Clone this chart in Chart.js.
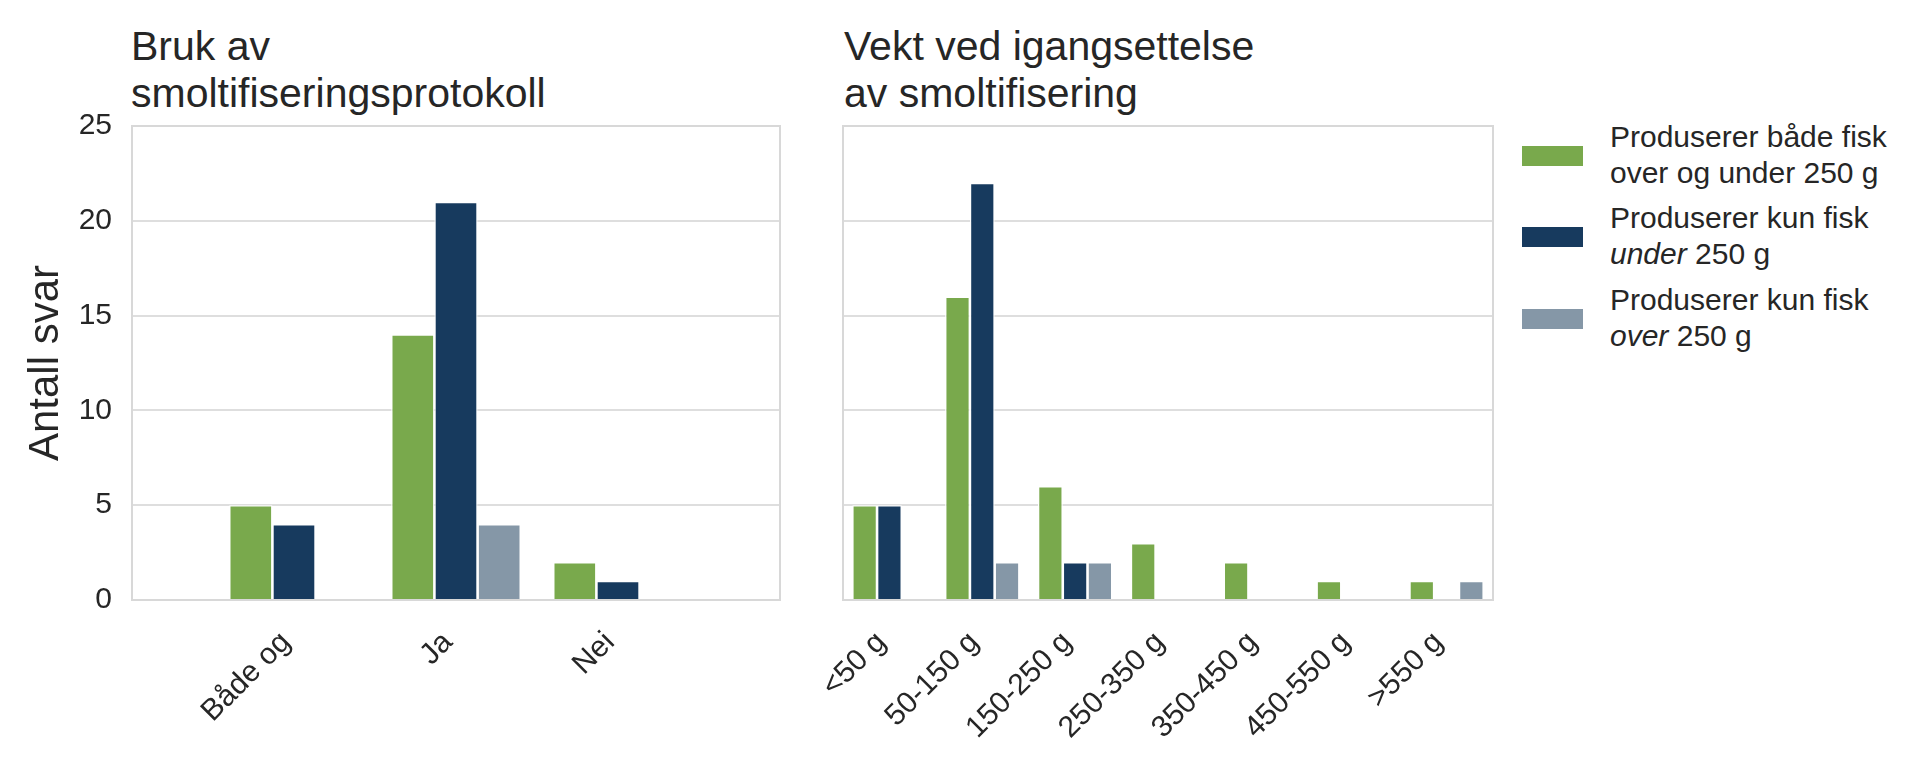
<!DOCTYPE html>
<html>
<head>
<meta charset="utf-8">
<script src="https://cdn.jsdelivr.net/npm/chart.js@4.4.1/dist/chart.umd.min.js"></script>
<style>
  html, body { margin: 0; padding: 0; background: #ffffff; }
  body { width: 1916px; height: 764px; position: relative; overflow: hidden;
         font-family: "Liberation Sans", Arial, sans-serif; color: #262626; }
  .title { position: absolute; top: 23px; font-size: 41px; line-height: 47px; white-space: nowrap; }
  #cLeft { position: absolute; left: 0; top: 0; }
  #cRight { position: absolute; left: 800px; top: 0; }
  .leg { position: absolute; left: 1610px; font-size: 30px; line-height: 36px; white-space: nowrap; }
  .sw { position: absolute; left: 1522px; width: 61px; height: 20px; }
</style>
</head>
<body>
<div class="title" style="left:131px">Bruk av<br>smoltifiseringsprotokoll</div>
<div class="title" style="left:844px">Vekt ved igangsettelse<br>av smoltifisering</div>
<canvas id="cLeft" width="800" height="764"></canvas>
<canvas id="cRight" width="720" height="764"></canvas>
<div id="legend"></div>
<script>
// ---- data ----
const leftCategories = ["Både og", "Ja", "Nei"];
const rightCategories = ["<50 g", "50-150 g", "150-250 g", "250-350 g", "350-450 g", "450-550 g", ">550 g"];
const seriesLegend = [
  ["Produserer både fisk", "over og under 250 g"],
  ["Produserer kun fisk", "<i>under</i> 250 g"],
  ["Produserer kun fisk", "<i>over</i> 250 g"]
];
const seriesLabels = ["Produserer både fisk over og under 250 g", "Produserer kun fisk under 250 g", "Produserer kun fisk over 250 g"];
const seriesColors = ["#79a94c", "#173a5e", "#8597a7"];
const leftBoth  = [5, 14, 2];
const leftUnder = [4, 21, 1];
const leftOver  = [0, 4, 0];
const rightBoth  = [5, 16, 6, 3, 2, 1, 1];
const rightUnder = [5, 22, 2, 0, 0, 0, 0];
const rightOver  = [0, 2, 2, 0, 0, 0, 1];
const yMin = 0, yMax = 25, yStep = 5;
const yAxisTitle = "Antall svar";

// ---- helpers ----
const TEXT = "#262626";
const GRID = "#dedede";
const FONT = "'Liberation Sans', Arial, sans-serif";

const framePlugin = {
  id: 'frame',
  beforeDatasetsDraw(chart) {
    const a = chart.chartArea, ctx = chart.ctx;
    ctx.save();
    ctx.strokeStyle = "#d8d8d8";
    ctx.lineWidth = 2;
    ctx.strokeRect(a.left, a.top, a.right - a.left, a.bottom - a.top);
    ctx.restore();
  }
};

function makeDatasets(arrs, pad) {
  return arrs.map((arr, i) => ({
    label: seriesLabels[i],
    data: pad ? [null, ...arr, null] : arr,
    backgroundColor: seriesColors[i],
    borderColor: "#ffffff",
    borderWidth: 1.3,
    categoryPercentage: 0.8,
    barPercentage: 1.0
  }));
}

function makeOptions(isLeft) {
  return {
    responsive: false,
    animation: false,
    layout: { padding: { top: 126, bottom: 0, left: 0, right: isLeft ? 20 : 27 } },
    plugins: { legend: { display: false }, title: { display: false }, tooltip: { enabled: false } },
    scales: {
      x: {
        offset: !isLeft,
        grid: { display: false, drawTicks: false },
        border: { display: false },
        ticks: {
          autoSkip: false, maxRotation: 45, minRotation: 45, padding: 25, labelOffset: -8,
          color: TEXT, font: { family: FONT, size: 30 }
        },
        afterFit(s) { s.height = 164; s.paddingLeft = 0; s.paddingRight = 0; }
      },
      y: {
        min: yMin, max: yMax,
        grid: { color: GRID, lineWidth: 2, drawTicks: false },
        border: { display: false },
        ticks: {
          display: isLeft, stepSize: yStep, padding: 20,
          color: TEXT, font: { family: FONT, size: 30 }
        },
        title: {
          display: isLeft, text: yAxisTitle, color: TEXT,
          font: { family: FONT, size: 42 }, padding: { top: 21, bottom: 0 }
        },
        afterFit(s) { s.width = isLeft ? 132 : 43; s.paddingTop = 0; s.paddingBottom = 0; }
      }
    }
  };
}

new Chart(document.getElementById('cLeft'), {
  type: 'bar',
  data: { labels: ["", ...leftCategories, ""], datasets: makeDatasets([leftBoth, leftUnder, leftOver], true) },
  options: makeOptions(true),
  plugins: [framePlugin]
});

new Chart(document.getElementById('cRight'), {
  type: 'bar',
  data: { labels: rightCategories, datasets: makeDatasets([rightBoth, rightUnder, rightOver], false) },
  options: makeOptions(false),
  plugins: [framePlugin]
});

// ---- legend ----
const legTops = [119, 200, 282];
const legend = document.getElementById('legend');
seriesLegend.forEach((lines, i) => {
  const sw = document.createElement('div');
  sw.className = 'sw';
  sw.style.top = (legTops[i] + 27) + 'px';
  sw.style.background = seriesColors[i];
  legend.appendChild(sw);
  const t = document.createElement('div');
  t.className = 'leg';
  t.style.top = legTops[i] + 'px';
  t.innerHTML = lines.join('<br>');
  legend.appendChild(t);
});
</script>
</body>
</html>
